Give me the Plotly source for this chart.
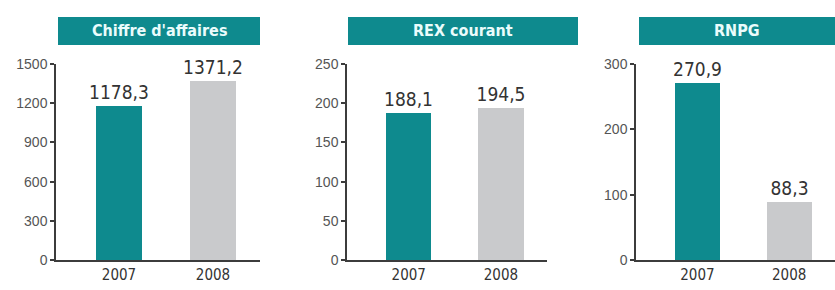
import plotly.graph_objects as go

W, H = 835, 290

years = ["2007", "2008"]
titles = ["Chiffre d'affaires", "REX courant", "RNPG"]
ca_values = [1178.3, 1371.2]
rex_values = [188.1, 194.5]
rnpg_values = [270.9, 88.3]
ca_ticks = [0, 300, 600, 900, 1200, 1500]
rex_ticks = [0, 50, 100, 150, 200, 250]
rnpg_ticks = [0, 100, 200, 300]
value_labels = [["1178,3", "1371,2"], ["188,1", "194,5"], ["270,9", "88,3"]]

TEAL = "#0e8a8e"
GREY = "#c9cacc"
AXIS = "#3c3c3c"

series = [ca_values, rex_values, rnpg_values]
ticks = [ca_ticks, rex_ticks, rnpg_ticks]
x_dom_px = [(56, 260), (347, 547), (636, 835)]
box_px = [(58, 260), (348, 578), (639, 835)]
y_dom = [(H - 260) / H, (H - 64) / H]

NARROW = "DejaVu Sans Condensed, Liberation Sans Narrow, sans-serif"

fig = go.Figure()
for i in range(3):
    xa = "x" if i == 0 else f"x{i+1}"
    ya = "y" if i == 0 else f"y{i+1}"
    fig.add_trace(go.Bar(
        x=[0, 1], y=series[i], xaxis=xa, yaxis=ya,
        marker=dict(color=[TEAL, GREY], line=dict(width=0)),
        width=0.49,
        text=value_labels[i], textposition="outside",
        textfont=dict(family=NARROW, size=19, color="#333333"),
        constraintext="none", cliponaxis=False,
        hoverinfo="skip", showlegend=False,
    ))
    xkey = "xaxis" if i == 0 else f"xaxis{i+1}"
    ykey = "yaxis" if i == 0 else f"yaxis{i+1}"
    x0, x1 = x_dom_px[i]
    fig.update_layout({
        xkey: dict(domain=[x0 / W, x1 / W], anchor=ya, range=[-0.67, 1.5],
                   tickvals=[0, 1], ticktext=years, showline=True, linecolor=AXIS,
                   linewidth=1.5, ticks="", showgrid=False, zeroline=False,
                   automargin=False,
                   tickfont=dict(family=NARROW, size=15, color="#333333"), fixedrange=True),
        ykey: dict(domain=y_dom, anchor=xa, range=[0, ticks[i][-1]], tickvals=ticks[i],
                   showline=True, linecolor=AXIS, linewidth=1.5, ticks="outside",
                   ticklen=4, tickcolor=AXIS, tickwidth=1.5, showgrid=False, zeroline=False,
                   automargin=False,
                   tickfont=dict(family="Liberation Sans, Arial, sans-serif", size=14, color="#555555"),
                   fixedrange=True),
    })
    b0, b1 = box_px[i]
    fig.add_shape(type="rect", xref="paper", yref="paper",
                  x0=b0 / W, x1=b1 / W, y0=(H - 45) / H, y1=(H - 17) / H,
                  fillcolor=TEAL, line=dict(width=0), layer="below")
    fig.add_annotation(xref="paper", yref="paper", x=(b0 + b1) / 2 / W, y=(H - 31) / H,
                       text=f"<b>{titles[i]}</b>", showarrow=False,
                       xanchor="center", yanchor="middle",
                       font=dict(family=NARROW, size=16, color="#eafcfc"))

fig.update_layout(width=W, height=H, margin=dict(l=0, r=0, t=0, b=0, autoexpand=False),
                  paper_bgcolor="white", plot_bgcolor="white", bargap=0)
fig.write_html("out.html", config={"displayModeBar": False},
               post_script="document.body.style.margin='0';document.body.style.overflow='hidden';")
